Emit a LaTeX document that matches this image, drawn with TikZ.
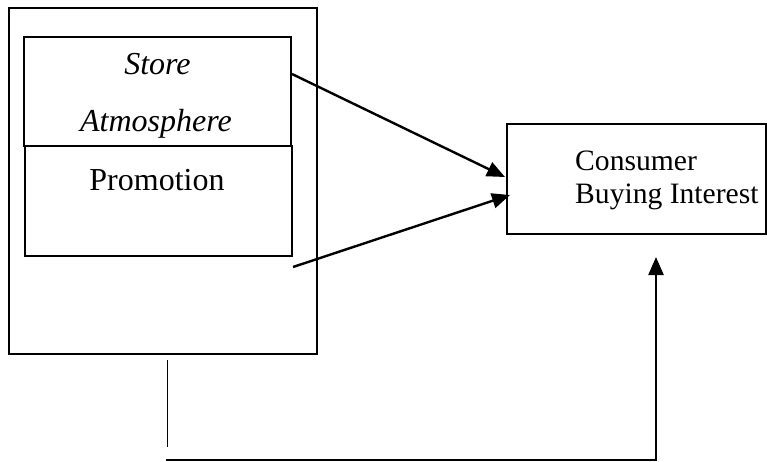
\documentclass[tikz,border=0pt]{standalone}
\usepackage{fontspec}
\setmainfont{Liberation Serif}
\usetikzlibrary{arrows.meta}
\begin{document}
\begin{tikzpicture}[x=1pt,y=-1pt,
  boxstyle/.style={draw, line width=2.8pt, inner sep=0pt, rectangle},
  conn/.style={line width=2.4pt, -{Triangle[length=18pt,width=15pt]}},
  bigtxt/.style={font=\fontsize{32}{37}\selectfont, anchor=base, inner sep=0pt},
  cbtxt/.style={font=\fontsize{29.6}{34}\selectfont, anchor=base west, inner sep=0pt}]
\useasboundingbox (0,0) rectangle (767,462);
\fill[white] (0,0) rectangle (767,462);
% boxes
\node[boxstyle, minimum width=308pt, minimum height=346pt] (outer) at (163,181) {};
\node[boxstyle, minimum width=267pt, minimum height=109pt] (store) at (157.5,91.5) {};
\node[boxstyle, minimum width=267pt, minimum height=110pt] (promo) at (158.5,201) {};
\node[boxstyle, minimum width=259pt, minimum height=110pt] (cbi) at (636.5,179) {};
% texts
\node[bigtxt] (t1) at (157.5,75) {\itshape Store};
\node[bigtxt] (t2) at (156,132) {\itshape Atmosphere};
\node[bigtxt] (t3) at (157,190.5) {Promotion};
\node[cbtxt] (t4) at (575,171) {Consumer};
\node[cbtxt] (t5) at (575,204) {Buying Interest};
% connectors
\coordinate (a1) at (292,74);
\coordinate (a1e) at (505,177);
\coordinate (a2) at (293,267);
\coordinate (a2e) at (510,195);
\draw[conn] (a1) -- (a1e);
\draw[conn] (a2) -- (a2e);
\coordinate (v1) at (167.5,360);
\coordinate (v2) at (167.5,447);
\draw[line width=1.2pt] (v1) -- (v2);
\coordinate (h1) at (166,460);
\coordinate (h2) at (656,460);
\coordinate (h3) at (656,257);
\draw[conn] (h1) -- (h2) -- (h3);
\end{tikzpicture}
\end{document}
